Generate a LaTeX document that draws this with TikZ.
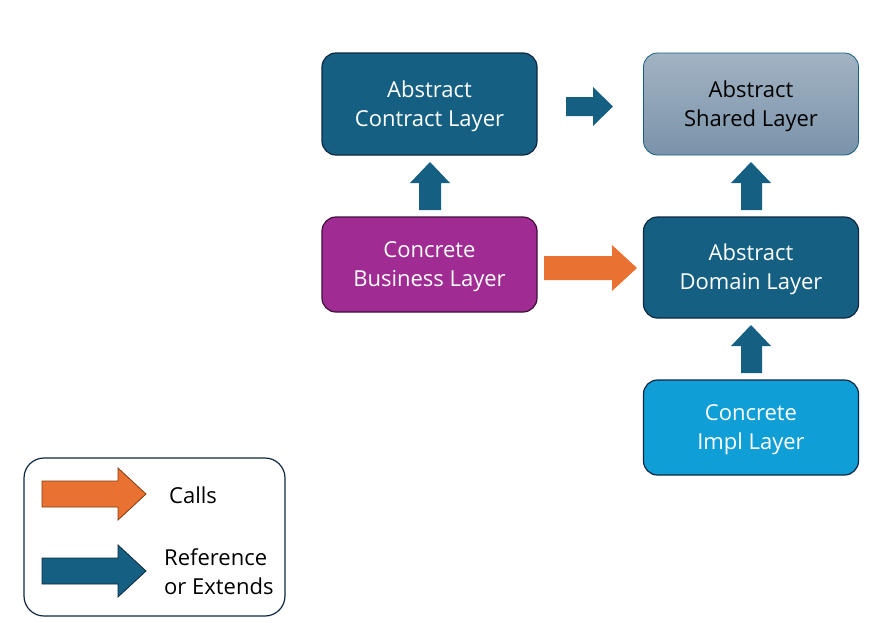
\documentclass[tikz,border=0pt]{standalone}
\usepackage{fontspec}
\setmainfont{Open Sans}
\usetikzlibrary{calc}
\definecolor{dteal}{HTML}{156082}
\definecolor{dborder}{HTML}{0E2841}
\definecolor{purp}{HTML}{A02B93}
\definecolor{purpb}{HTML}{3E1038}
\definecolor{lblue}{HTML}{0F9ED5}
\definecolor{orng}{HTML}{E97132}
\definecolor{orngb}{HTML}{843C0C}
\definecolor{sharedtop}{HTML}{A2B3C3}
\definecolor{sharedbot}{HTML}{7A93AA}
\tikzset{
  layer/.style={rounded corners=14pt, minimum width=215pt, line width=1.2pt, inner sep=0pt},
  lbl/.style={align=center, font=\fontsize{22}{29}\selectfont, text=white, inner sep=0pt, yshift=-2.2pt},
  refarrow/.style={fill=dteal, draw=none},
  callarrow/.style={fill=orng, draw=none},
  legtext/.style={font=\fontsize{22}{29}\selectfont, inner sep=0pt, anchor=west, align=left},
}
\begin{document}
\begin{tikzpicture}[x=1pt,y=-1pt]
\useasboundingbox (0,0) rectangle (887,622);
% layers
\node[layer, minimum height=102pt, fill=dteal, draw=dborder,
  label={[lbl]center:{Abstract\\Contract Layer}}] (contract) at (429.5,104) {};
\node[layer, minimum height=102pt, top color=sharedtop, bottom color=sharedbot, draw=dteal, line width=0.8pt,
  label={[lbl,text=black]center:{Abstract\\Shared Layer}}] (shared) at (751,104) {};
\node[layer, minimum height=95pt, fill=purp, draw=purpb,
  label={[lbl]center:{Concrete\\Business Layer}}] (business) at (429.5,264.5) {};
\node[layer, minimum height=101pt, fill=dteal, draw=dborder,
  label={[lbl]center:{Abstract\\Domain Layer}}] (domain) at (751,267.5) {};
\node[layer, minimum height=95pt, fill=lblue, draw=dborder,
  label={[lbl]center:{Concrete\\Impl Layer}}] (impl) at (751,427.5) {};
% block arrows (right): contract -> shared
\fill[refarrow] (566,97) -- (593,97) -- (593,87) -- (613,106.5) -- (593,126) -- (593,116) -- (566,116) -- cycle;
% business -> domain (calls)
\fill[callarrow] (544,256) -- (612,256) -- (612,245) -- (637,268) -- (612,291) -- (612,280) -- (544,280) -- cycle;
% business -> contract (up)
\fill[refarrow] (419,210) -- (419,183) -- (410,183) -- (430,162) -- (450,183) -- (441,183) -- (441,210) -- cycle;
% domain -> shared (up)
\fill[refarrow] (741,210) -- (741,183) -- (731,183) -- (751,162) -- (771,183) -- (762,183) -- (762,210) -- cycle;
% impl -> domain (up)
\fill[refarrow] (741,373) -- (741,346) -- (731,346) -- (751,325) -- (771,346) -- (762,346) -- (762,373) -- cycle;
% legend
\node[draw=dborder, line width=1.2pt, rounded corners=20pt, fill=white, minimum width=261pt, minimum height=158pt, inner sep=0pt] (legend) at (154.5,537) {};
\draw[fill=orng, draw=orngb, line width=0.8pt] (42,481) -- (118,481) -- (118,468) -- (146,494) -- (118,520) -- (118,507) -- (42,507) -- cycle;
\draw[fill=dteal, draw=dborder, line width=0.8pt] (42,558) -- (118,558) -- (118,545) -- (146,571) -- (118,597) -- (118,584) -- (42,584) -- cycle;
\node[legtext] (calls) at (169,495) {Calls};
\node[legtext] (ref) at (164,572) {Reference\\or Extends};
\end{tikzpicture}
\end{document}
